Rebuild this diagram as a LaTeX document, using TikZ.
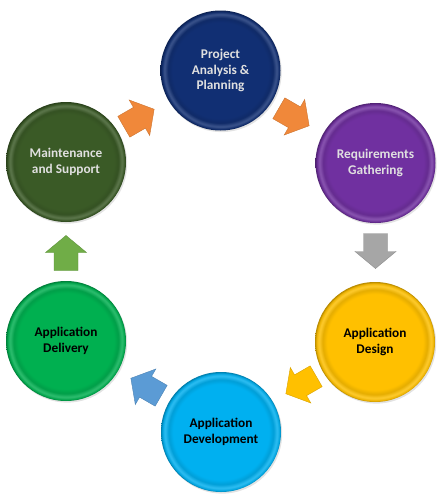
\documentclass[tikz,border=0pt]{standalone}
\usepackage{fontspec}
\setmainfont{Carlito}
\usetikzlibrary{shadows}
\definecolor{cnavy}{HTML}{112F73}
\definecolor{cpurple}{HTML}{7030A0}
\definecolor{cgold}{HTML}{FFC000}
\definecolor{ccyan}{HTML}{00B0F0}
\definecolor{cgreen}{HTML}{00B050}
\definecolor{cdkgreen}{HTML}{3A5A26}
\definecolor{aorange}{HTML}{F0883A}
\definecolor{agray}{HTML}{A6A6A6}
\definecolor{agold}{HTML}{FFC000}
\definecolor{ablue}{HTML}{5B9BD5}
\definecolor{agreen}{HTML}{70AD47}
\definecolor{lighttext}{HTML}{E0E0E0}
\colorlet{cbase}{cnavy}
\pgfdeclareradialshading[cbase]{bevel}{\pgfpoint{0bp}{0bp}}{%
 color(0bp)=(cbase);
 color(20bp)=(cbase);
 color(21.8bp)=(cbase!90!black);
 color(23.4bp)=(cbase!82!white);
 color(24.5bp)=(cbase!92!black);
 color(25bp)=(cbase!70!black);
 color(50bp)=(cbase!70!black)}
\tikzset{
  stage/.style={circle, minimum size=120pt, inner sep=0pt,
    /utils/exec={\colorlet{cbase}{#1}}, shading=bevel, shade,
    drop shadow={opacity=0.22, shadow xshift=1.2pt, shadow yshift=-1.6pt},
    align=center, font=\fontsize{13.3}{15.5}\selectfont\bfseries},
  darktext/.style={text=lighttext},
  brighttext/.style={text=black},
  pics/barrow/.style={code={
    \path[fill=#1, draw=#1!85!black, line width=0.4pt, line join=miter]
      (-17.5,-12) -- (0.5,-12) -- (0.5,-20.5) -- (17.5,0) -- (0.5,20.5)
      -- (0.5,12) -- (-17.5,12) -- cycle;}}
}
\begin{document}
\begin{tikzpicture}[x=1pt, y=-1pt]
\useasboundingbox (0,0) rectangle (442,501);
\node[stage=cnavy, darktext] (plan) at (220.5,70.5) {Project\\Analysis \&\\Planning};
\node[stage=cpurple, darktext] (req) at (375.5,163) {Requirements\\Gathering};
\node[stage=cgold, brighttext] (design) at (375,342) {Application\\Design};
\node[stage=ccyan, brighttext] (dev) at (221,432) {Application\\Development};
\node[stage=cgreen, brighttext] (deliv) at (66,341) {Application\\Delivery};
\node[stage=cdkgreen, darktext] (maint) at (66,162) {Maintenance\\and Support};
\pic (a1) [rotate=30] at (139,118) {barrow=aorange};
\pic (a2) [rotate=-30] at (294,117) {barrow=aorange};
\pic (a3) [rotate=-90] at (375.5,251) {barrow=agray};
\pic (a4) [rotate=210] at (301,385) {barrow=agold};
\pic (a5) [rotate=150] at (146,387) {barrow=ablue};
\pic (a6) [rotate=90] at (66,253) {barrow=agreen};
\end{tikzpicture}
\end{document}
